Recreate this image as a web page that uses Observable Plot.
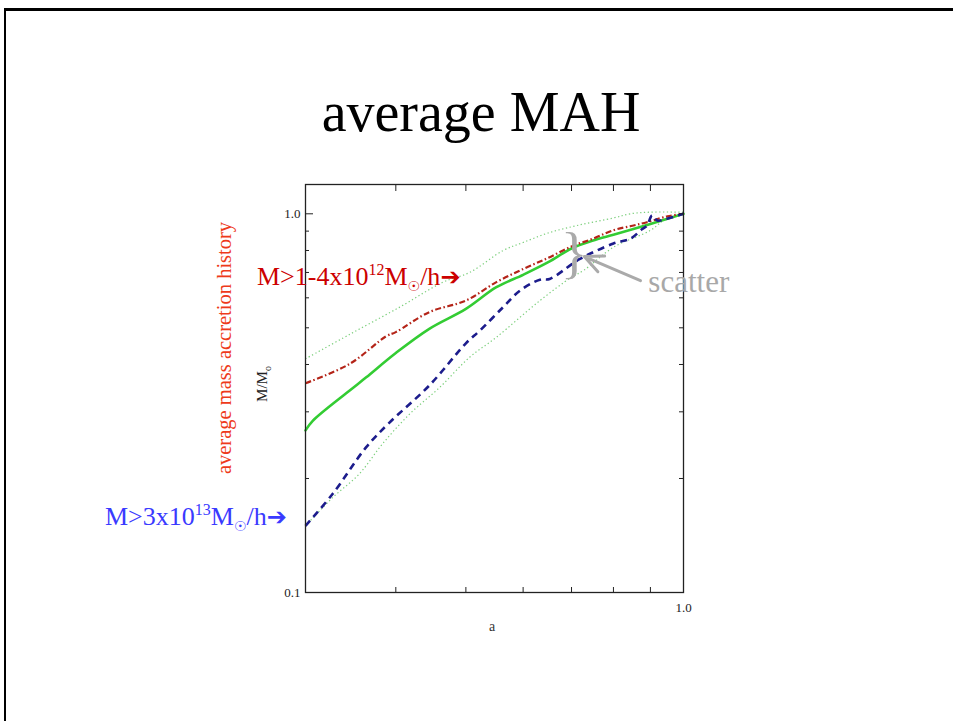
<!DOCTYPE html>
<html>
<head>
<meta charset="utf-8">
<script src="https://cdn.jsdelivr.net/npm/d3@7"></script>
<script src="https://cdn.jsdelivr.net/npm/@observablehq/plot@0.6"></script>
<style>
  html, body { margin: 0; padding: 0; background: #fff; overflow: hidden; width: 953px; height: 721px; }
  #page { position: relative; width: 953px; height: 721px; }
  #chart { position: absolute; left: 0; top: 0; }
  .border { position: absolute; left: 4px; top: 8px; width: 2000px; height: 2000px; border-left: 2px solid #000; border-top: 3px solid #000; }
  .t { position: absolute; font-family: "Liberation Serif", "Times New Roman", serif; line-height: 1; white-space: nowrap; }
  .sup { position: relative; top: -10px; font-size: 16px; }
  .sun { position: relative; top: 6px; font-size: 14px; font-family: "DejaVu Sans", sans-serif; font-weight: bold; }
  .arr { font-family: "DejaVu Sans", sans-serif; font-size: 24px; font-weight: bold; }
</style>
</head>
<body>
<div id="page">
  <div class="border"></div>
  <div id="chart"></div>
  <div class="t" id="title" style="left:0;width:962px;text-align:center;top:84px;font-size:56px;color:#000;">average MAH</div>
  <div class="t" style="left:257px;top:264px;font-size:26px;color:#cc0000;">M&gt;1-4x10<span class="sup">12</span>M<span class="sun">☉</span>/h<span class="arr">➔</span></div>
  <div class="t" style="left:105px;top:504px;font-size:26px;color:#3a3aff;">M&gt;3x10<span class="sup">13</span>M<span class="sun">☉</span>/h<span class="arr">➔</span></div>
  <div class="t" style="left:224px;top:348px;font-size:20.5px;color:#ee3a1a;transform:translate(-50%,-50%) rotate(-90deg);">average mass accretion history</div>
  <div class="t" style="left:262px;top:384px;font-size:15px;color:#222;transform:translate(-50%,-50%) rotate(-90deg);">M/M<span style="font-size:10px;position:relative;top:4px;">o</span></div>
  <div class="t" style="left:489px;top:620px;font-size:14px;color:#333;">a</div>
</div>
<script>
// ---- data ----
const meanA = [0.30, 0.307, 0.345, 0.364, 0.40, 0.445, 0.50, 0.551, 0.60, 0.65, 0.70, 0.75, 0.80, 0.85, 0.90, 0.95, 1.00];
const meanM = [0.268, 0.284, 0.341, 0.37, 0.429, 0.497, 0.561, 0.64, 0.69, 0.745, 0.81, 0.85, 0.88, 0.91, 0.94, 0.97, 1.00];

const lowMassA = [0.30, 0.345, 0.388, 0.40, 0.445, 0.50, 0.551, 0.60, 0.65, 0.70, 0.75, 0.80, 0.85, 0.89, 0.95, 1.00];
const lowMassM = [0.357, 0.401, 0.475, 0.487, 0.55, 0.59, 0.66, 0.715, 0.765, 0.82, 0.86, 0.905, 0.93, 0.95, 0.985, 1.00];

const highMassA = [0.30, 0.327, 0.364, 0.392, 0.445, 0.50, 0.523, 0.563, 0.594, 0.633, 0.653, 0.70, 0.719, 0.80, 0.844, 0.876, 0.89, 0.905, 0.92, 0.949, 1.00];
const highMassM = [0.150, 0.182, 0.242, 0.281, 0.352, 0.455, 0.492, 0.567, 0.627, 0.67, 0.673, 0.735, 0.76, 0.835, 0.859, 0.91, 0.93, 0.99, 0.96, 0.97, 1.00];

const upperA = [0.30, 0.345, 0.405, 0.465, 0.506, 0.563, 0.60, 0.65, 0.719, 0.80, 0.844, 0.90, 1.00];
const upperM = [0.414, 0.48, 0.567, 0.66, 0.70, 0.80, 0.84, 0.89, 0.935, 0.975, 1.0, 1.01, 1.01];

const lowerA = [0.30, 0.327, 0.356, 0.3835, 0.418, 0.46, 0.506, 0.551, 0.633, 0.70, 0.727, 0.80, 0.90, 0.939, 1.00];
const lowerM = [0.15, 0.178, 0.2056, 0.247, 0.296, 0.348, 0.418, 0.472, 0.59, 0.68, 0.708, 0.816, 0.904, 0.96, 1.00];

const yMinorTicks = [0.2, 0.3, 0.4, 0.5, 0.6, 0.7, 0.8, 0.9];
const yLabelTicks = [0.1, 1.0];
const xMinorTicks = [0.4, 0.5, 0.6, 0.7, 0.8, 0.9];
const xLabelTicks = [1.0];

const scatterArrow = [{x1: 0.872, y1: 0.666, x2: 0.729, y2: 0.771}];
const braceNote = [{x: 0.706, y: 0.785, text: "}"}];
const scatterNote = [{x: 0.894, y: 0.623, text: "scatter"}];

const toRows = (xs, ys) => xs.map((a, i) => ({a, m: ys[i]}));

const serif = "Liberation Serif, Times New Roman, serif";
const blank = () => "";
const fmt1 = d => d.toFixed(1);

const chart = Plot.plot({
  width: 953,
  height: 721,
  marginLeft: 305,
  marginRight: 270,
  marginTop: 184,
  marginBottom: 129,
  style: {fontFamily: serif, fontSize: "13px", background: "transparent", overflow: "visible"},
  x: {type: "log", domain: [0.3, 1.0], label: null},
  y: {type: "log", domain: [0.1, 1.195], label: null},
  marks: [
    Plot.line(toRows(upperA, upperM), {x: "a", y: "m", stroke: "#7ccf7c", strokeWidth: 1.2, strokeDasharray: "1.3,2.5", strokeLinecap: "butt", curve: "catmull-rom"}),
    Plot.line(toRows(lowerA, lowerM), {x: "a", y: "m", stroke: "#7ccf7c", strokeWidth: 1.2, strokeDasharray: "1.3,2.5", strokeLinecap: "butt", curve: "catmull-rom"}),
    Plot.line(toRows(meanA, meanM), {x: "a", y: "m", stroke: "#33cc33", strokeWidth: 2.6, curve: "catmull-rom"}),
    Plot.line(toRows(lowMassA, lowMassM), {x: "a", y: "m", stroke: "#b42418", strokeWidth: 2.2, strokeDasharray: "6,2.5,1.5,2.5", strokeLinecap: "butt", curve: "catmull-rom"}),
    Plot.line(toRows(highMassA, highMassM), {x: "a", y: "m", stroke: "#1c1c8c", strokeWidth: 2.6, strokeDasharray: "7,5", strokeLinecap: "butt", curve: "catmull-rom"}),
    Plot.frame({stroke: "#222", strokeWidth: 1.3}),
    Plot.axisY({anchor: "left", ticks: yMinorTicks, tickSize: -4, tickFormat: blank, label: null, stroke: "#222"}),
    Plot.axisY({anchor: "left", ticks: [1.0], tickSize: -8, tickFormat: blank, label: null, stroke: "#222"}),
    Plot.axisY({anchor: "right", ticks: yMinorTicks.concat([1.0]), tickSize: -5, tickFormat: blank, label: null, stroke: "#222"}),
    Plot.axisX({anchor: "top", ticks: xMinorTicks, tickSize: -6, tickFormat: blank, label: null, stroke: "#222"}),
    Plot.axisX({anchor: "bottom", ticks: xMinorTicks, tickSize: -5, tickFormat: blank, label: null, stroke: "#222"}),
    Plot.text(yLabelTicks, {y: d => d, text: fmt1, frameAnchor: "left", textAnchor: "end", dx: -5, fill: "#222", fontSize: 13, fontFamily: serif}),
    Plot.text(xLabelTicks, {x: d => d, text: fmt1, frameAnchor: "bottom", lineAnchor: "top", dy: 10, fill: "#222", fontSize: 13, fontFamily: serif}),
    Plot.arrow(scatterArrow, {x1: "x1", y1: "y1", x2: "x2", y2: "y2", stroke: "#aaaaaa", strokeWidth: 3, headLength: 14, headAngle: 50}),
    Plot.text(braceNote, {x: "x", y: "y", text: "text", fill: "#aaaaaa", fontSize: 56, fontFamily: serif}),
    Plot.text(scatterNote, {x: "x", y: "y", text: "text", fill: "#a8a8a8", fontSize: 31, fontFamily: serif, textAnchor: "start", lineAnchor: "bottom"})
  ]
});
document.getElementById("chart").appendChild(chart);
</script>
</body>
</html>
